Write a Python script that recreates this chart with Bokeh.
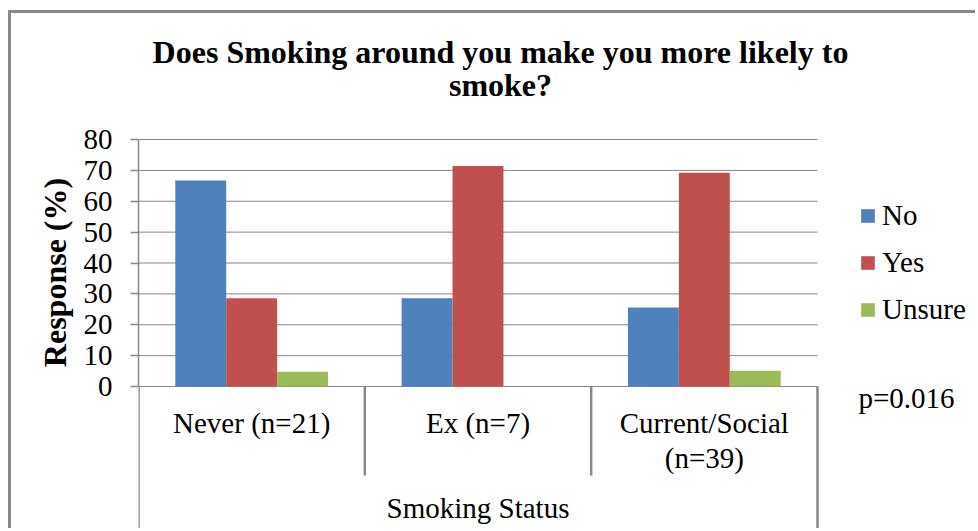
from bokeh.plotting import figure
from bokeh.models import Range1d, Label, Legend, LegendItem, FixedTicker
from bokeh.embed import file_html
from bokeh.resources import INLINE

# ---- chart data -------------------------------------------------------
title_lines = ["Does Smoking around you make you more likely to", "smoke?"]
categories = ["Never (n=21)", "Ex (n=7)", "Current/Social\n(n=39)"]
series = ["No", "Yes", "Unsure"]
no_pct = [66.7, 28.6, 25.6]
yes_pct = [28.6, 71.4, 69.2]
unsure_pct = [4.8, 0.0, 5.1]
series_colors = ["#4F81BD", "#C0504D", "#9BBB59"]
y_ticks = [0, 10, 20, 30, 40, 50, 60, 70, 80]
x_title = "Smoking Status"
y_title = "Response (%)"
p_value = "p=0.016"

# ---- layout (page pixels) ---------------------------------------------
PAGE_W, PAGE_H = 978, 531
BORDER = 3                       # chart-area border (left and top)
OFF_X, OFF_Y = 8, 10             # border offset from the page corner
CANVAS_X, CANVAS_Y = OFF_X + BORDER, OFF_Y + BORDER
PLOT_L, PLOT_R = 138, 817        # value-axis area, page x
PLOT_T, PLOT_B = 139, 386        # value-axis area, page y
Y_MAX = y_ticks[-1]
N = len(categories)
GRAY = "#878787"
SERIF = "Liberation Serif"
TEXT_SIZE = "29px"

X_PER_PX = N / (PLOT_R - PLOT_L)
Y_PER_PX = Y_MAX / (PLOT_B - PLOT_T)


def dx(px):
    """Page x (pixels) -> data x."""
    return (px - PLOT_L) * X_PER_PX


def dy(py):
    """Page y (pixels from top) -> data y."""
    return (PLOT_B - py) * Y_PER_PX


def text(x, y_px, s, align="center", size=TEXT_SIZE, style="normal"):
    """Single line of serif text, vertically centred on page row y_px."""
    return Label(x=x, y=dy(y_px), text=s, text_align=align, text_baseline="middle",
                 text_font=SERIF, text_font_size=size, text_font_style=style,
                 text_color="black")


# the frame spans everything right of the value axis; the axis sits in the left panel
p = figure(width=PAGE_W - CANVAS_X, height=PAGE_H - CANVAS_Y,
           x_range=Range1d(0, dx(PAGE_W)), y_range=Range1d(dy(PAGE_H), dy(CANVAS_Y)),
           output_backend="svg", toolbar_location=None, x_axis_location=None,
           min_border_left=PLOT_L - CANVAS_X, min_border_right=0,
           min_border_top=0, min_border_bottom=0)
p.margin = (OFF_Y, 0, 0, OFF_X)
p.styles = {"border-left": f"{BORDER}px solid #888888",
            "border-top": f"{BORDER}px solid #888888"}
p.outline_line_color = None
p.background_fill_color = "white"
p.border_fill_color = "white"
p.xgrid.visible = False
p.ygrid.visible = False

# value axis
yax = p.yaxis[0]
yax.bounds = (0, Y_MAX)
yax.ticker = FixedTicker(ticks=y_ticks)
yax.axis_line_color = GRAY
yax.axis_line_width = 1.5
yax.major_tick_line_color = GRAY
yax.major_tick_line_width = 1.5
yax.major_tick_out = 8
yax.major_tick_in = 0
yax.minor_tick_out = 0
yax.minor_tick_in = 0
yax.major_label_standoff = 18
yax.major_label_text_font = SERIF
yax.major_label_text_font_size = TEXT_SIZE
yax.major_label_text_color = "black"
yax.axis_label = y_title
yax.axis_label_text_font = SERIF
yax.axis_label_text_font_size = "32px"
yax.axis_label_text_font_style = "bold"
yax.axis_label_text_color = "black"
yax.axis_label_standoff = 8

# horizontal gridlines across the category area
p.segment(x0=[0] * len(y_ticks), x1=[N] * len(y_ticks), y0=y_ticks, y1=y_ticks,
          line_color=GRAY, line_width=1)

# clustered bars
bar_w = 0.225
items = []
for j, (name, vals, col) in enumerate(zip(series, [no_pct, yes_pct, unsure_pct], series_colors)):
    xs = [i + 0.5 + (j - 1) * bar_w for i in range(N)]
    r = p.vbar(x=xs, top=vals, bottom=0, width=bar_w, fill_color=col, line_color=None)
    items.append(LegendItem(label=name, renderers=[r]))

# category separators below the axis
sep_x = list(range(N + 1))
sep_bottom = [dy(528) if k in (0, N) else dy(475) for k in sep_x]
p.segment(x0=sep_x, x1=sep_x, y0=[0] * len(sep_x), y1=sep_bottom,
          line_color=GRAY, line_width=2.5)

# legend to the right of the bars
leg = Legend(items=items, location=(859 - PLOT_L, PAGE_H - 326), orientation="vertical",
             padding=0, margin=0, spacing=14, glyph_width=17, glyph_height=17,
             label_height=30, label_standoff=6,
             label_text_font=SERIF, label_text_font_size=TEXT_SIZE,
             label_text_color="black", border_line_color=None,
             background_fill_alpha=0)
p.add_layout(leg)

# category labels
for i, cat in enumerate(categories):
    for li, line in enumerate(cat.split("\n")):
        p.add_layout(text(i + 0.5, 422 + li * 35, line))

# category axis title
p.add_layout(text(N / 2, 507, x_title))

# chart title
for li, line in enumerate(title_lines):
    p.add_layout(text(dx(500), 51 + li * 33, line, size="32px", style="bold"))

# significance note
p.add_layout(text(dx(858), 397, p_value, align="left"))

open("out.html", "w").write(file_html(p, INLINE))
